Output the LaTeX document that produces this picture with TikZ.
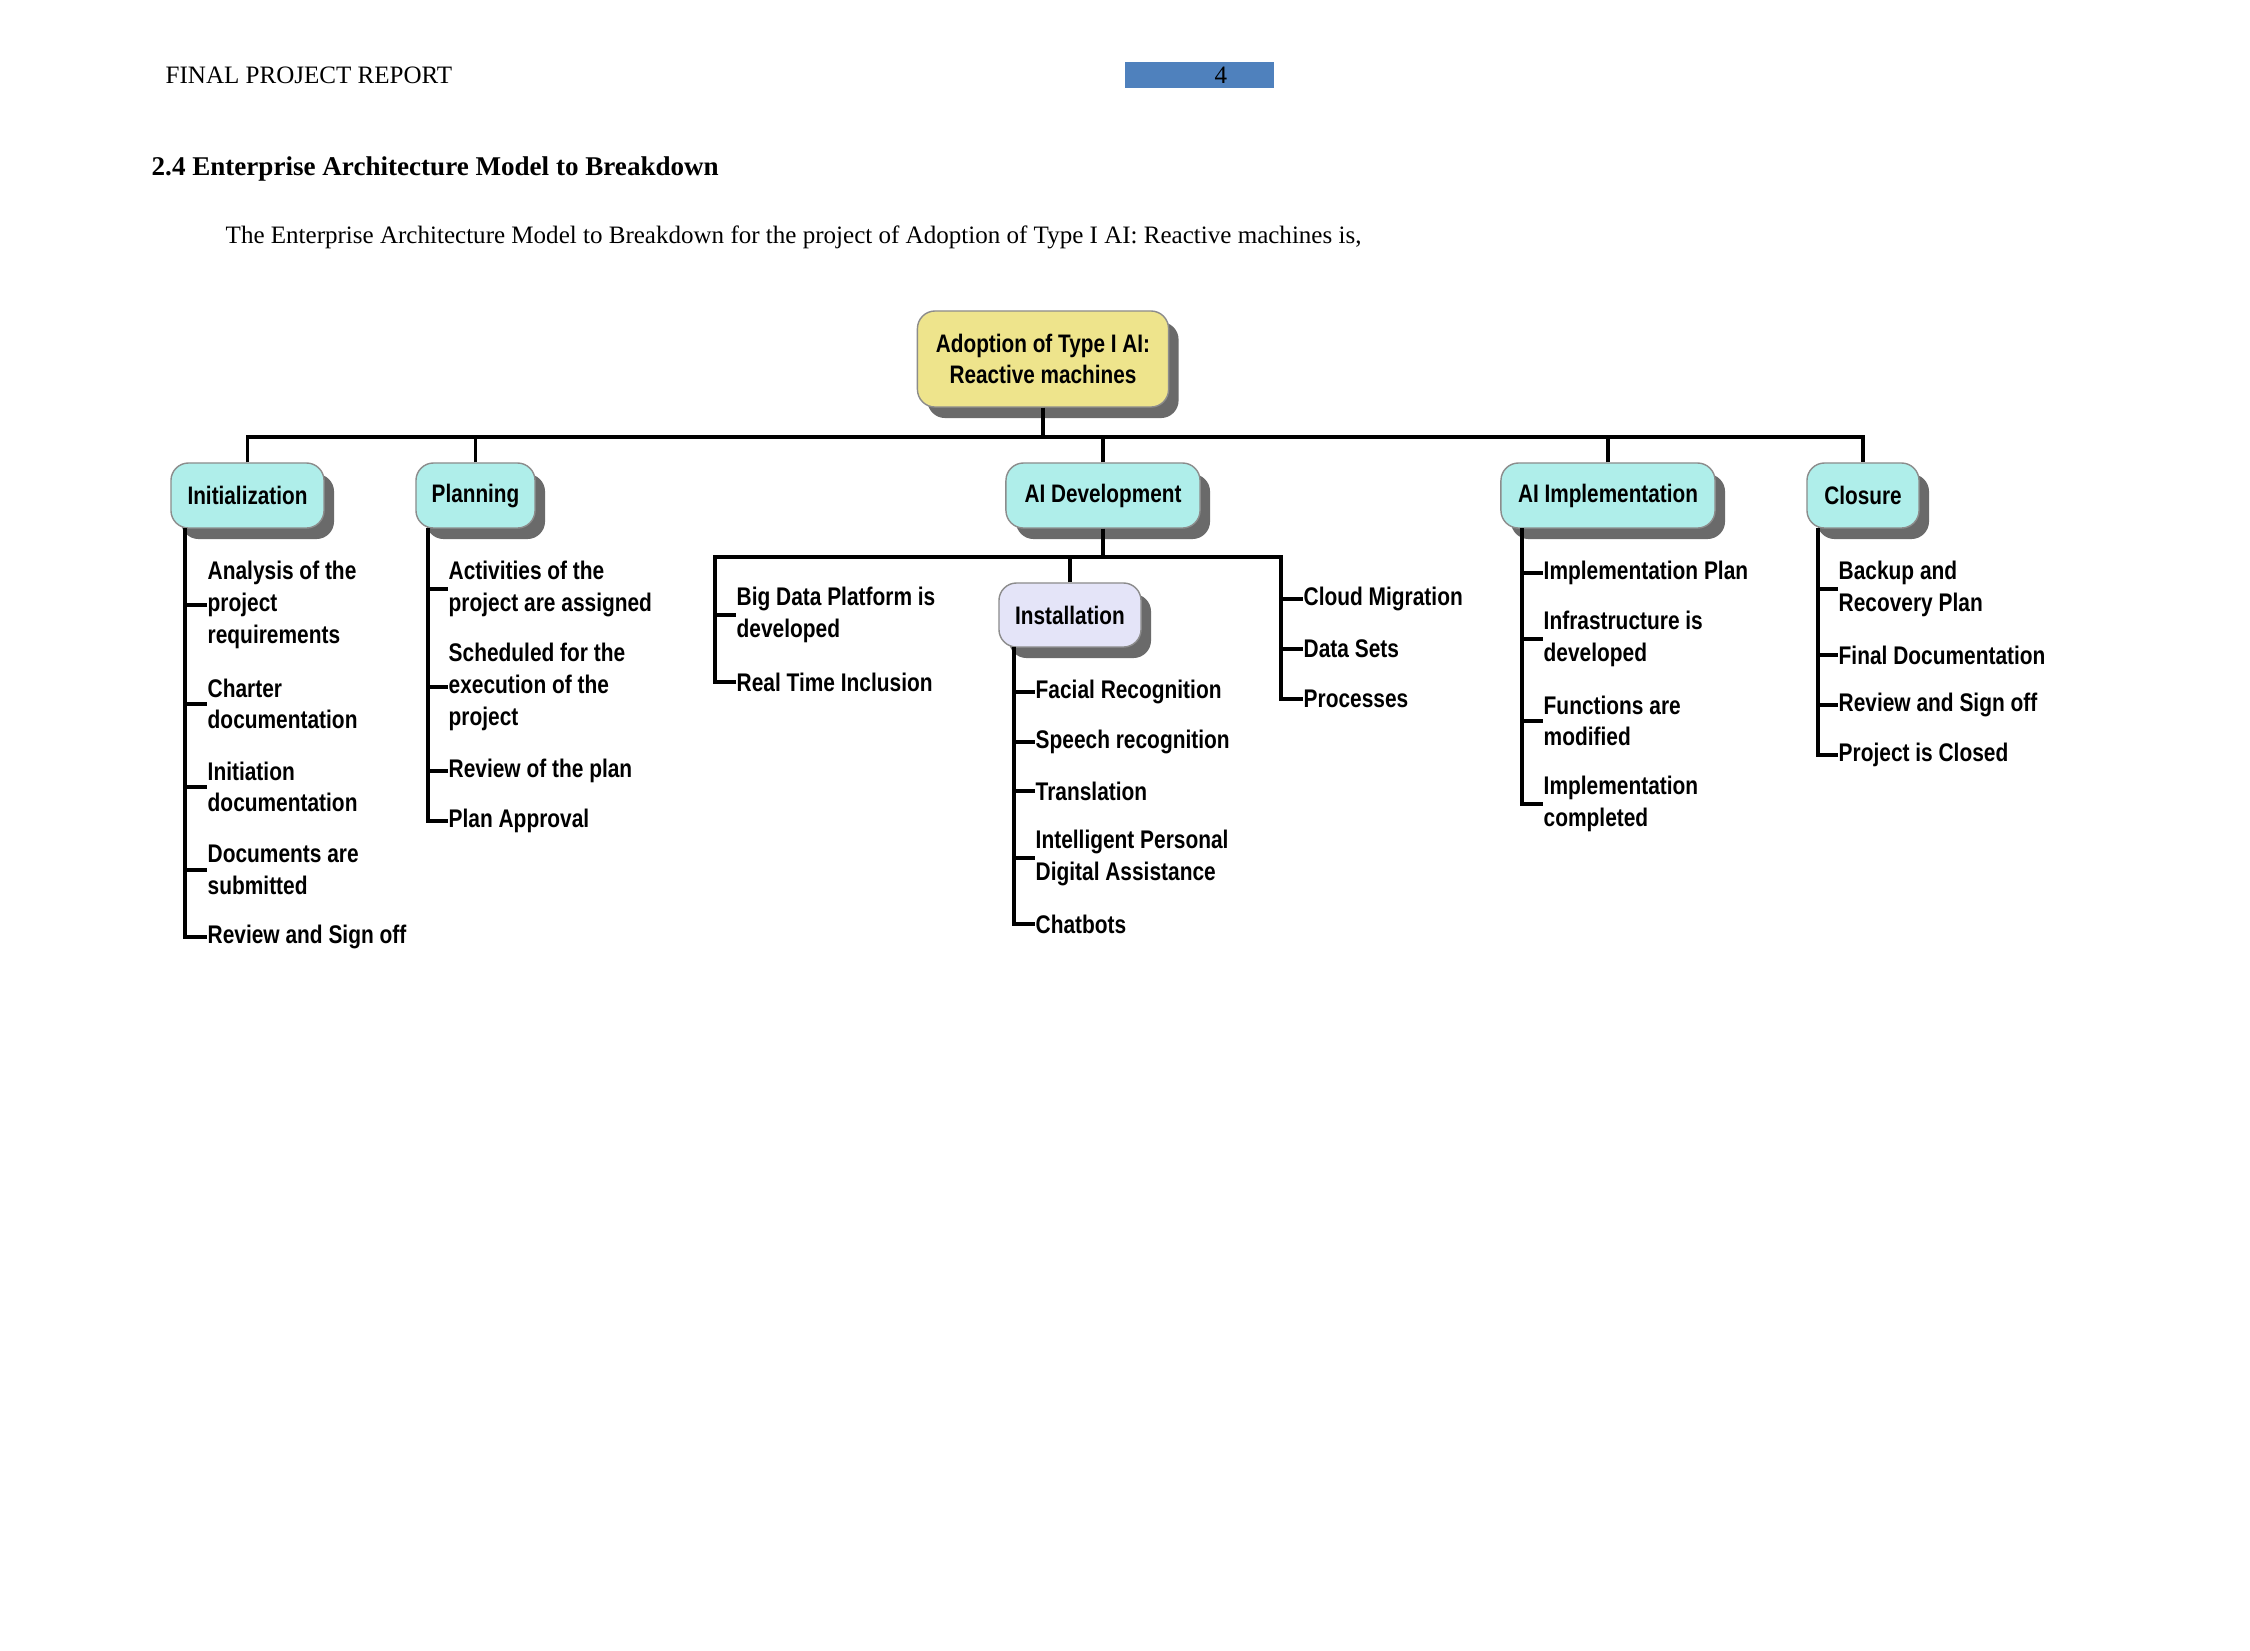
\documentclass[tikz,border=0pt]{standalone}
\usepackage{fontspec}
\setmainfont{Liberation Serif}
\newfontfamily\nb[FakeStretch=0.82]{Liberation Sans}
\usetikzlibrary{shadows}
\definecolor{cyanbox}{HTML}{AFEEEA}
\definecolor{rootbox}{HTML}{EEE48C}
\definecolor{instbox}{HTML}{E4E4F8}
\definecolor{shadowgray}{HTML}{6A6A6A}
\definecolor{pageblue}{HTML}{4F81BD}
\tikzset{
  box/.style={draw=black!45, line width=0.4pt, rounded corners=5pt, align=center,
    font={\nb\bfseries\fontsize{7.2}{8.6}\selectfont}, inner sep=0pt,
    drop shadow={shadow xshift=0.1cm, shadow yshift=-0.11cm, fill=shadowgray, opacity=1}},
  lvl/.style={box, fill=cyanbox, minimum height=0.65cm},
  item/.style={anchor=west, align=left, inner xsep=0pt, inner ysep=1pt,
    font={\nb\bfseries\fontsize{7.25}{9}\selectfont}},
  conn/.style={line width=0.9pt, black},
  hdr/.style={anchor=west, inner sep=0pt, font={\fontsize{7.12}{9}\selectfont}}
}
\begin{document}
\begin{tikzpicture}[x=0.01cm, y=-0.01cm]
\useasboundingbox (0,0) rectangle (2250,1650);
\fill[white] (0,0) rectangle (2250,1650);

% header
\node[hdr] (title) at (165,75) {FINAL PROJECT REPORT};
\fill[pageblue] (1125,62) rectangle (1274,88);
\node[inner sep=0pt, font={\fontsize{7.12}{9}\selectfont}] (pg) at (1221,75) {4};
\node[hdr, font={\bfseries\fontsize{7.7}{9}\selectfont}] (head) at (151,169) {2.4 Enterprise Architecture Model to Breakdown};
\node[hdr] (para) at (225,237) {The Enterprise Architecture Model to Breakdown for the project of Adoption of Type I AI: Reactive machines is,};

% boxes
\node[box, fill=rootbox, minimum width=2.51cm, minimum height=0.96cm] (root) at (1043,359) {Adoption of Type I AI:\\Reactive machines};
\node[lvl, minimum width=1.53cm] (init) at (247.5,495.5) {Initialization};
\node[lvl, minimum width=1.19cm] (plan) at (475.5,495.5) {Planning};
\node[lvl, minimum width=1.94cm] (aidev) at (1103,495.5) {AI Development};
\node[lvl, minimum width=2.14cm] (aiimpl) at (1608,495.5) {AI Implementation};
\node[lvl, minimum width=1.12cm] (close) at (1863,495.5) {Closure};
\node[box, fill=instbox, minimum width=1.42cm, minimum height=0.64cm] (inst) at (1070,615) {Installation};

% top bar
\coordinate (bar) at (0,437);
\draw[conn] (root.south) -- (root.south |- bar);
\draw[conn] (init.north) |- (bar -| close.north) -- (close.north);
\draw[conn] (plan.north) -- (plan.north |- bar);
\draw[conn] (aidev.north) -- (aidev.north |- bar);
\draw[conn] (aiimpl.north) -- (aiimpl.north |- bar);

% Initialization items
\node[item] (i1) at (207,605) {Analysis of the\\project\\requirements};
\node[item] (i2) at (207,704) {Charter\\documentation};
\node[item] (i3) at (207,787) {Initiation\\documentation};
\node[item] (i4) at (207,870) {Documents are\\submitted};
\node[item] (i5) at (207,937) {Review and Sign off};
\coordinate (initL) at (185,528);
\draw[conn] (initL) |- (i5.west);
\foreach \n in {i1,i2,i3,i4} \draw[conn] (\n.west -| initL) -- (\n.west);

% Planning items
\node[item] (p1) at (448,589) {Activities of the\\project are assigned};
\node[item] (p2) at (448,687) {Scheduled for the\\execution of the\\project};
\node[item] (p3) at (448,771) {Review of the plan};
\node[item] (p4) at (448,821) {Plan Approval};
\coordinate (planL) at (428,528);
\draw[conn] (planL) |- (p4.west);
\foreach \n in {p1,p2,p3} \draw[conn] (\n.west -| planL) -- (\n.west);

% AI Development
\coordinate (b2L) at (715,557);
\coordinate (b2R) at (1281,557);
\node[item] (d1) at (736,615) {Big Data Platform is\\developed};
\node[item] (d2) at (736,682) {Real Time Inclusion};
\node[item] (d3) at (1303,599) {Cloud Migration};
\node[item] (d4) at (1303,649) {Data Sets};
\node[item] (d5) at (1303,699) {Processes};
\draw[conn] (d2.west) -| (b2L) -- (b2R) |- (d5.west);
\draw[conn] (d1.west -| b2L) -- (d1.west);
\draw[conn] (d3.west -| b2R) -- (d3.west);
\draw[conn] (d4.west -| b2R) -- (d4.west);
\draw[conn] (aidev.south) -- (aidev.south |- b2L);
\draw[conn] (inst.north) -- (inst.north |- b2L);

% Installation items
\node[item] (s1) at (1035,692) {Facial Recognition};
\node[item] (s2) at (1035,742) {Speech recognition};
\node[item] (s3) at (1035,791) {Translation};
\node[item] (s4) at (1035,858) {Intelligent Personal\\Digital Assistance};
\node[item] (s5) at (1035,924) {Chatbots};
\coordinate (instL) at (1014,647);
\draw[conn] (instL) |- (s5.west);
\foreach \n in {s1,s2,s3,s4} \draw[conn] (\n.west -| instL) -- (\n.west);

% AI Implementation items
\node[item] (m1) at (1543,573) {Implementation Plan};
\node[item] (m2) at (1543,639) {Infrastructure is\\developed};
\node[item] (m3) at (1543,721) {Functions are\\modified};
\node[item] (m4) at (1543,804) {Implementation\\completed};
\coordinate (implL) at (1522,528);
\draw[conn] (implL) |- (m4.west);
\foreach \n in {m1,m2,m3} \draw[conn] (\n.west -| implL) -- (\n.west);

% Closure items
\node[item] (c1) at (1838,589) {Backup and\\Recovery Plan};
\node[item] (c2) at (1838,655) {Final Documentation};
\node[item] (c3) at (1838,705) {Review and Sign off};
\node[item] (c4) at (1838,755) {Project is Closed};
\coordinate (closeL) at (1818,528);
\draw[conn] (closeL) |- (c4.west);
\foreach \n in {c1,c2,c3} \draw[conn] (\n.west -| closeL) -- (\n.west);
\end{tikzpicture}
\end{document}
